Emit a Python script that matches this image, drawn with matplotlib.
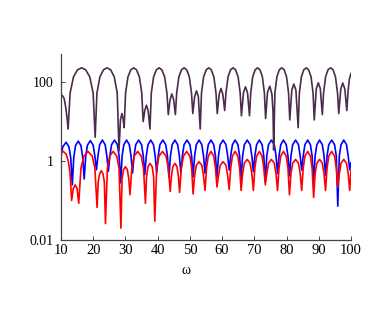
import matplotlib
matplotlib.use("Agg")
import matplotlib.pyplot as plt

# ---------------- data ----------------
x_ticks = [10, 20, 30, 40, 50, 60, 70, 80, 90, 100]
y_ticks = [0.01, 1, 100]
y_tick_labels = ["0.01", "1", "100"]
x_label = "ω"

purple_w = [10.0, 10.5, 11.0, 11.5, 11.9, 12.2,
            12.83, 13.88, 15.14, 16.4, 17.66, 18.92, 19.97, 20.6,
            21.15, 22.08, 23.19, 24.3, 25.41, 26.52, 27.45, 28.0,
            28.45, 28.9, 29.25, 29.6,
            30.04, 30.78, 31.67, 32.55, 33.43, 34.32, 35.06, 35.5,
            36.0, 36.5, 37.05, 37.6,
            38.03, 38.74, 39.6, 40.45, 41.3, 42.16, 42.87, 43.3,
            43.85, 44.4, 44.95, 45.5,
            45.9, 46.58, 47.39, 48.2, 49.01, 49.82, 50.5, 50.9,
            51.48, 52.05, 52.62, 53.2,
            53.6, 54.26, 55.06, 55.85, 56.64, 57.44, 58.1, 58.5,
            59.08, 59.65, 60.22, 60.8,
            61.19, 61.84, 62.62, 63.4, 64.18, 64.96, 65.61, 66.0,
            66.63, 67.25, 67.88, 68.5,
            68.88, 69.5, 70.25, 71.0, 71.75, 72.5, 73.12, 73.5,
            74.1, 74.8, 75.45, 75.8, 76.0,
            76.38, 77.0, 77.75, 78.5, 79.25, 80.0, 80.62, 81.0,
            81.63, 82.25, 82.9, 83.6,
            83.98, 84.6, 85.35, 86.1, 86.85, 87.6, 88.22, 88.6,
            89.23, 89.85, 90.48, 91.1,
            91.48, 92.12, 92.86, 93.65, 94.44, 95.18, 95.82, 96.2,
            96.83, 97.45, 98.08, 98.7,
            99.1, 99.5, 100.0]
purple_v = [47, 45, 38, 22, 12, 6.5,
            53, 136, 205, 230, 205, 136, 53, 4,
            53, 136, 205, 230, 205, 136, 53, 1.8,
            11, 16, 12, 7,
            53, 136, 205, 230, 205, 136, 53, 10,
            19, 26, 19, 6.5,
            53, 136, 205, 230, 205, 136, 53, 15,
            36, 50, 36, 15,
            53, 136, 205, 230, 205, 136, 53, 16,
            43, 60, 43, 6.5,
            53, 136, 205, 230, 205, 136, 53, 16,
            49, 69, 49, 19,
            53, 136, 205, 230, 205, 136, 53, 14,
            54, 76, 54, 14,
            53, 136, 205, 230, 205, 136, 53, 12,
            56, 79, 50, 18, 1.9,
            53, 136, 205, 230, 205, 136, 53, 11,
            63, 89, 63, 7,
            53, 136, 205, 230, 205, 136, 53, 11,
            68, 96, 68, 15,
            53, 136, 205, 230, 205, 136, 53, 16,
            67, 95, 67, 19,
            60, 120, 166]

blue_w = [10.0, 10.55, 11.6, 12.45, 13.03, 13.5,
          13.97, 14.5, 15.35, 16.2, 16.73, 17.2,
          17.67, 18.2, 19.1, 20.0, 20.53, 21.0,
          21.47, 22.0, 22.85, 23.7, 24.23, 24.7,
          25.17, 25.7, 26.6, 27.5, 28.03, 28.5,
          28.97, 29.5, 30.35, 31.2, 31.73, 32.2,
          32.67, 33.2, 34.1, 35.0, 35.53, 36.0,
          36.47, 37.0, 37.85, 38.7, 39.23, 39.7,
          40.17, 40.7, 41.6, 42.5, 43.03, 43.5,
          43.97, 44.5, 45.35, 46.2, 46.73, 47.2,
          47.67, 48.2, 49.1, 50.0, 50.53, 51.0,
          51.47, 52.0, 52.85, 53.7, 54.23, 54.7,
          55.17, 55.7, 56.55, 57.4, 57.93, 58.4,
          58.87, 59.4, 60.3, 61.2, 61.73, 62.2,
          62.67, 63.2, 64.05, 64.9, 65.43, 65.9,
          66.37, 66.9, 67.8, 68.7, 69.23, 69.7,
          70.17, 70.7, 71.55, 72.4, 72.93, 73.4,
          73.87, 74.4, 75.3, 76.2, 76.73, 77.2,
          77.67, 78.2, 79.05, 79.9, 80.43, 80.9,
          81.37, 81.9, 82.8, 83.7, 84.23, 84.7,
          85.17, 85.7, 86.55, 87.4, 87.93, 88.4,
          88.87, 89.4, 90.25, 91.1, 91.63, 92.1,
          92.57, 93.1, 94.0, 94.9, 95.43, 95.9,
          96.37, 96.9, 97.75, 98.6, 99.13, 99.6,
          100.0]
blue_v = [1.3, 2.3, 3.0, 2.3, 1.2, 0.25,
          1.25, 2.45, 3.2, 2.45, 1.25, 0.35,
          1.3, 2.5, 3.3, 2.5, 1.3, 0.6,
          1.35, 2.6, 3.4, 2.6, 1.35, 0.55,
          1.35, 2.6, 3.4, 2.6, 1.35, 0.28,
          1.35, 2.6, 3.4, 2.6, 1.35, 0.5,
          1.35, 2.6, 3.4, 2.6, 1.35, 0.45,
          1.35, 2.6, 3.4, 2.6, 1.35, 0.5,
          1.35, 2.6, 3.4, 2.6, 1.35, 0.39,
          1.35, 2.6, 3.4, 2.6, 1.35, 0.5,
          1.35, 2.6, 3.4, 2.6, 1.35, 0.4,
          1.35, 2.6, 3.4, 2.6, 1.35, 0.49,
          1.35, 2.6, 3.4, 2.6, 1.35, 0.39,
          1.35, 2.6, 3.4, 2.6, 1.35, 0.59,
          1.35, 2.6, 3.4, 2.6, 1.35, 0.36,
          1.35, 2.6, 3.4, 2.6, 1.35, 0.54,
          1.35, 2.6, 3.4, 2.6, 1.35, 0.3,
          1.35, 2.6, 3.4, 2.6, 1.35, 0.49,
          1.35, 2.6, 3.4, 2.6, 1.35, 0.42,
          1.35, 2.6, 3.4, 2.6, 1.35, 0.59,
          1.35, 2.6, 3.4, 2.6, 1.35, 0.3,
          1.35, 2.6, 3.4, 2.6, 1.35, 0.44,
          1.35, 2.6, 3.4, 2.6, 1.35, 0.072,
          1.35, 2.6, 3.4, 2.6, 1.35, 0.6,
          0.9]

red_w = [10.0, 10.6, 11.6, 12.3, 12.8, 13.3,
         13.8, 14.4, 15.0, 15.5,
         16.2, 17.1, 18.4, 19.7, 20.5, 21.2,
         21.55, 22.0, 22.5, 23.0, 23.45, 23.8,
         24.4, 25.1, 26.2, 27.3, 28.0, 28.6,
         28.95, 29.4, 30.0, 30.6, 31.05, 31.4,
         32.0, 32.7, 33.8, 34.9, 35.6, 36.2,
         36.55, 37.0, 37.65, 38.3, 38.75, 39.1,
         39.7, 40.4, 41.5, 42.6, 43.3, 43.9,
         44.25, 44.7, 45.35, 46.0, 46.45, 46.8,
         47.35, 48.0, 49.0, 50.0, 50.55, 51.0,
         51.47, 52.0, 52.85, 53.7, 54.23, 54.7,
         55.17, 55.7, 56.55, 57.4, 57.93, 58.4,
         58.87, 59.4, 60.3, 61.2, 61.73, 62.2,
         62.67, 63.2, 64.05, 64.9, 65.43, 65.9,
         66.37, 66.9, 67.8, 68.7, 69.23, 69.7,
         70.17, 70.7, 71.55, 72.4, 72.93, 73.4,
         73.87, 74.4, 75.3, 76.2, 76.73, 77.2,
         77.67, 78.2, 79.05, 79.9, 80.43, 80.9,
         81.37, 81.9, 82.8, 83.7, 84.23, 84.7,
         85.17, 85.7, 86.55, 87.4, 87.93, 88.4,
         88.87, 89.4, 90.25, 91.1, 91.63, 92.1,
         92.57, 93.1, 94.0, 94.9, 95.43, 95.9,
         96.37, 96.9, 97.75, 98.6, 99.13, 99.6,
         100.0]
red_v = [1.7, 1.78, 1.5, 0.96, 0.5, 0.10,
         0.2, 0.25, 0.2, 0.085,
         0.67, 1.33, 1.75, 1.33, 0.67, 0.067,
         0.3, 0.48, 0.57, 0.48, 0.3, 0.026,
         0.67, 1.33, 1.75, 1.33, 0.67, 0.02,
         0.35, 0.6, 0.72, 0.6, 0.35, 0.14,
         0.67, 1.33, 1.75, 1.33, 0.67, 0.085,
         0.4, 0.72, 0.87, 0.72, 0.4, 0.03,
         0.67, 1.33, 1.75, 1.33, 0.67, 0.17,
         0.4, 0.72, 0.87, 0.72, 0.4, 0.16,
         0.67, 1.33, 1.75, 1.33, 0.67, 0.146,
         0.42, 0.78, 0.96, 0.78, 0.42, 0.18,
         0.67, 1.33, 1.75, 1.33, 0.67, 0.22,
         0.42, 0.78, 0.96, 0.78, 0.42, 0.19,
         0.67, 1.33, 1.75, 1.33, 0.67, 0.18,
         0.48, 0.88, 1.1, 0.88, 0.48, 0.18,
         0.67, 1.33, 1.75, 1.33, 0.67, 0.25,
         0.48, 0.88, 1.1, 0.88, 0.48, 0.18,
         0.67, 1.33, 1.75, 1.33, 0.67, 0.14,
         0.48, 0.88, 1.1, 0.88, 0.48, 0.18,
         0.67, 1.33, 1.75, 1.33, 0.67, 0.12,
         0.48, 0.88, 1.1, 0.88, 0.48, 0.18,
         0.67, 1.33, 1.75, 1.33, 0.67, 0.22,
         0.48, 0.88, 1.1, 0.88, 0.48, 0.18,
         0.6]

# ---------------- drawing ----------------
plt.rcParams["font.family"] = ["Liberation Serif", "DejaVu Serif"]

W, H = 392, 327
fig = plt.figure(figsize=(W / 100, H / 100), dpi=100)
ax = fig.add_axes([61 / W, 1 - 240 / H, 290 / W, 186 / H])

ax.plot(blue_w, blue_v, color="#0000ff", lw=1.2)
ax.plot(red_w, red_v, color="#ff0000", lw=1.2)
ax.plot(purple_w, purple_v, color="#4b2c4b", lw=1.2)

ax.set_yscale("log")
ax.set_xlim(10, 100)
ax.set_ylim(0.01, 515)

ax.set_xticks(x_ticks)
ax.set_xticklabels([str(t) for t in x_ticks])
ax.set_yticks(y_ticks)
ax.set_yticklabels(y_tick_labels)
ax.yaxis.set_minor_locator(matplotlib.ticker.NullLocator())

for s in ("top", "right"):
    ax.spines[s].set_visible(False)
for s in ("left", "bottom"):
    ax.spines[s].set_color("#444444")
    ax.spines[s].set_linewidth(0.9)

ax.tick_params(axis="both", which="major", direction="in", length=3,
               width=0.7, color="#444444")
ax.tick_params(axis="x", labelsize=10.5, pad=3.2)
ax.tick_params(axis="y", labelsize=10, pad=5.5)

fig.text(186 / W, 1 - 271 / H, x_label, ha="center", va="center", fontsize=10)

fig.savefig("out.png", dpi=100)
